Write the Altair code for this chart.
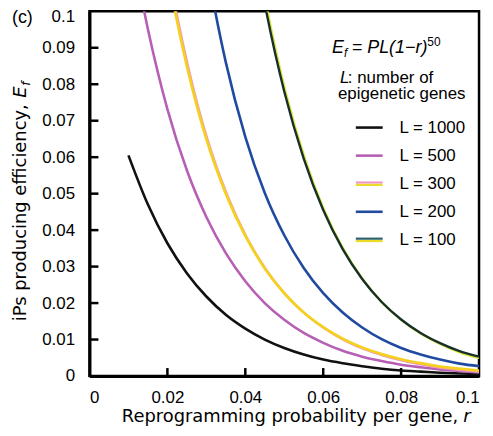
import altair as alt
import pandas as pd

# ---- data ----
r_1000 = [0.010, 0.015, 0.020, 0.025, 0.030, 0.035, 0.040, 0.045, 0.050, 0.055,
          0.060, 0.065, 0.070, 0.075, 0.080, 0.085, 0.090, 0.095, 0.100]
e_1000 = [0.0605, 0.0470, 0.0364, 0.0282, 0.0218, 0.0168, 0.0130, 0.0100, 0.0077, 0.0059,
          0.0045, 0.0035, 0.0027, 0.0020, 0.0015, 0.0012, 0.0009, 0.0007, 0.0005]

r_500 = [0.010, 0.015, 0.020, 0.025, 0.030, 0.035, 0.040, 0.045, 0.050, 0.055,
         0.060, 0.065, 0.070, 0.075, 0.080, 0.085, 0.090, 0.095, 0.100]
e_500 = [0.1228, 0.0951, 0.0732, 0.0564, 0.0436, 0.0337, 0.0260, 0.0200, 0.0154, 0.0118,
         0.0091, 0.0069, 0.0053, 0.0041, 0.0031, 0.0024, 0.0018, 0.0014, 0.0010]

r_300 = [0.015, 0.020, 0.025, 0.030, 0.035, 0.040, 0.045, 0.050, 0.055,
         0.060, 0.065, 0.070, 0.075, 0.080, 0.085, 0.090, 0.095, 0.100]
e_300 = [0.1440, 0.1110, 0.0850, 0.0650, 0.0500, 0.0384, 0.0295, 0.0227, 0.0174,
         0.0134, 0.0102, 0.0078, 0.0060, 0.0046, 0.0035, 0.0026, 0.0020, 0.0015]

r_200 = [0.025, 0.030, 0.035, 0.040, 0.045, 0.050, 0.055,
         0.060, 0.065, 0.070, 0.075, 0.080, 0.085, 0.090, 0.095, 0.100]
e_200 = [0.1460, 0.1130, 0.0860, 0.0656, 0.0502, 0.0386, 0.0296,
         0.0227, 0.0174, 0.0133, 0.0101, 0.0077, 0.0059, 0.0045, 0.0034, 0.0027]

r_100 = [0.040, 0.045, 0.050, 0.055, 0.060, 0.065, 0.070, 0.075, 0.080, 0.085, 0.090, 0.095, 0.100]
e_100 = [0.1325, 0.1020, 0.0780, 0.0596, 0.0455, 0.0348, 0.0266, 0.0203, 0.0155, 0.0118,
         0.0090, 0.0068, 0.0053]

x_ticks = [0, 0.02, 0.04, 0.06, 0.08, 0.1]
y_ticks = [0, 0.01, 0.02, 0.03, 0.04, 0.05, 0.06, 0.07, 0.08, 0.09, 0.1]
x_inner_ticks = [0.02, 0.04, 0.06, 0.08]
y_inner_ticks = [0.01, 0.02, 0.03, 0.04, 0.05, 0.06, 0.07, 0.08, 0.09]

legend_labels = ["L = 1000", "L = 500", "L = 300", "L = 200", "L = 100"]
legend_single = ["L = 1000", "L = 500", "L = 200"]
legend_double = ["L = 300", "L = 100"]

# ---- styles ----
LAB = "Liberation Sans"
TIT = "DejaVu Sans"
C1000 = "#111111"
C500 = "#b65fb5"
C300 = "#f5d01e"
C300b = "#ee96c6"
C200 = "#1f4aa0"
C100 = "#17302c"
C100b = "#dde636"
legend_colors = [C1000, C500, C300b, C200, "#2c5f6c"]

W, H = 392, 367

xs = alt.Scale(domain=[0, 0.1], nice=False, zero=False)
ys = alt.Scale(domain=[0, 0.1], nice=False, zero=False)

xaxis = alt.Axis(values=x_ticks, format="~g", grid=False, ticks=False, tickSize=0,
                 labelPadding=14, labelFont=LAB, labelFontSize=17, labelColor="black",
                 domainColor="black", domainWidth=3,
                 title="Reprogramming probability per gene,", titleFont=TIT, titleFontSize=18,
                 titleFontWeight="normal", titleColor="black", titleAlign="left",
                 titleX=32, titleY=46, titleBaseline="alphabetic")
yaxis = alt.Axis(values=y_ticks, format="~g", grid=False, ticks=False, tickSize=0,
                 labelPadding=15, labelFont=LAB, labelFontSize=17, labelColor="black",
                 labelOffset={"condition": {"test": "datum.value >= 0.0999", "value": 5},
                              "value": 0},
                 domainColor="black", domainWidth=3,
                 title="iPs producing efficiency,", titleFont=TIT, titleFontSize=18,
                 titleFontWeight="normal", titleColor="black", titleAngle=270,
                 titleAlign="right", titleX=-64, titleY=93, titleBaseline="alphabetic")

X = alt.X("r:Q", scale=xs, axis=xaxis)
Y = alt.Y("E:Q", scale=ys, axis=yaxis)


def curve(r, e, color, width, dx=0, dy=0):
    kw = dict(color=color, strokeWidth=width, clip=True, interpolate="monotone")
    if dx:
        kw["xOffset"] = dx
    if dy:
        kw["yOffset"] = dy
    return alt.Chart(pd.DataFrame({"r": r, "E": e})).mark_line(**kw).encode(x=X, y=Y)


one = pd.DataFrame({"k": [0]})


def txt(s, x, y, size=17, italic=False, angle=0, align="left",
        baseline="alphabetic", font=LAB):
    kw = dict(text=s, fontSize=size, font=font, align=align, baseline=baseline,
              color="black")
    if italic:
        kw["fontStyle"] = "italic"
    if angle:
        kw["angle"] = angle
    return alt.Chart(one).mark_text(**kw).encode(x=alt.value(x), y=alt.value(y))


curves = [
    curve(r_1000, e_1000, C1000, 2.6),
    curve(r_500, e_500, C500, 2.6),
    curve(r_300, e_300, C300b, 2.2, dx=1.5, dy=1.5),
    curve(r_300, e_300, C300, 2.8),
    curve(r_200, e_200, C200, 2.6),
    curve(r_100, e_100, C100b, 2.4, dx=1.6, dy=1.6),
    curve(r_100, e_100, C100, 2.4),
]

xt = alt.Chart(pd.DataFrame({"r": x_inner_ticks})).mark_rule(
    color="black", strokeWidth=2.5).encode(x=X, y=alt.value(H), y2=alt.value(H - 8))
yt = alt.Chart(pd.DataFrame({"E": y_inner_ticks})).mark_rule(
    color="black", strokeWidth=2.5).encode(y=Y, x=alt.value(0), x2=alt.value(9))

notes = [
    txt("(c)", -78, 12, size=18),
    txt("E", -64, 87, size=18, italic=True, angle=270, font=TIT),
    txt("f", -60, 75, size=12, italic=True, angle=270, font=TIT),
    txt("r", 376, 413, size=18, italic=True, font=TIT),
    txt("E", 244, 42, size=18, italic=True),
    txt("f", 256, 46, size=12, italic=True),
    txt("= PL(1\u2212r)", 264, 42, size=18, italic=True),
    txt("50", 340, 35, size=12),
    txt("L", 252, 72, size=17, italic=True),
    txt(": number of", 260, 72, size=17),
    txt("epigenetic genes", 250, 88, size=17),
]

main = alt.layer(*curves, xt, yt, *notes)

ly = alt.Y("label:N", scale=alt.Scale(type="point", domain=legend_labels,
                                      range=[117, 230], padding=0), axis=None)
lc = alt.Color("label:N", scale=alt.Scale(domain=legend_labels, range=legend_colors),
               legend=None)
ldf = pd.DataFrame({"label": legend_labels})

leg_single = alt.Chart(ldf).transform_filter(
    alt.FieldOneOfPredicate(field="label", oneOf=legend_single)
).mark_rule(strokeWidth=2.6).encode(y=ly, x=alt.value(268), x2=alt.value(295), color=lc)
leg_top = alt.Chart(ldf).transform_filter(
    alt.FieldOneOfPredicate(field="label", oneOf=legend_double)
).mark_rule(strokeWidth=2.2, yOffset=-1.2).encode(y=ly, x=alt.value(268), x2=alt.value(295), color=lc)
leg_bot = alt.Chart(ldf).transform_filter(
    alt.FieldOneOfPredicate(field="label", oneOf=legend_double)
).mark_rule(strokeWidth=2.2, yOffset=1.2, color="#ecdc28").encode(
    y=ly, x=alt.value(268), x2=alt.value(295))
leg_text = alt.Chart(ldf).mark_text(
    font=LAB, fontSize=17, align="left", baseline="middle", color="black"
).encode(y=ly, x=alt.value(312), text="label:N")

legend = alt.layer(leg_single, leg_top, leg_bot, leg_text)

chart = alt.layer(main, legend).resolve_scale(
    y="independent", color="independent"
).properties(
    width=W, height=H,
    padding={"left": 82, "top": 2, "right": 6, "bottom": 51},
    autosize=alt.AutoSizeParams(type="none"),
    background="white",
).configure_view(stroke="black", strokeWidth=2.5)

chart.save("out.html", embed_options={"renderer": "svg", "actions": False})
